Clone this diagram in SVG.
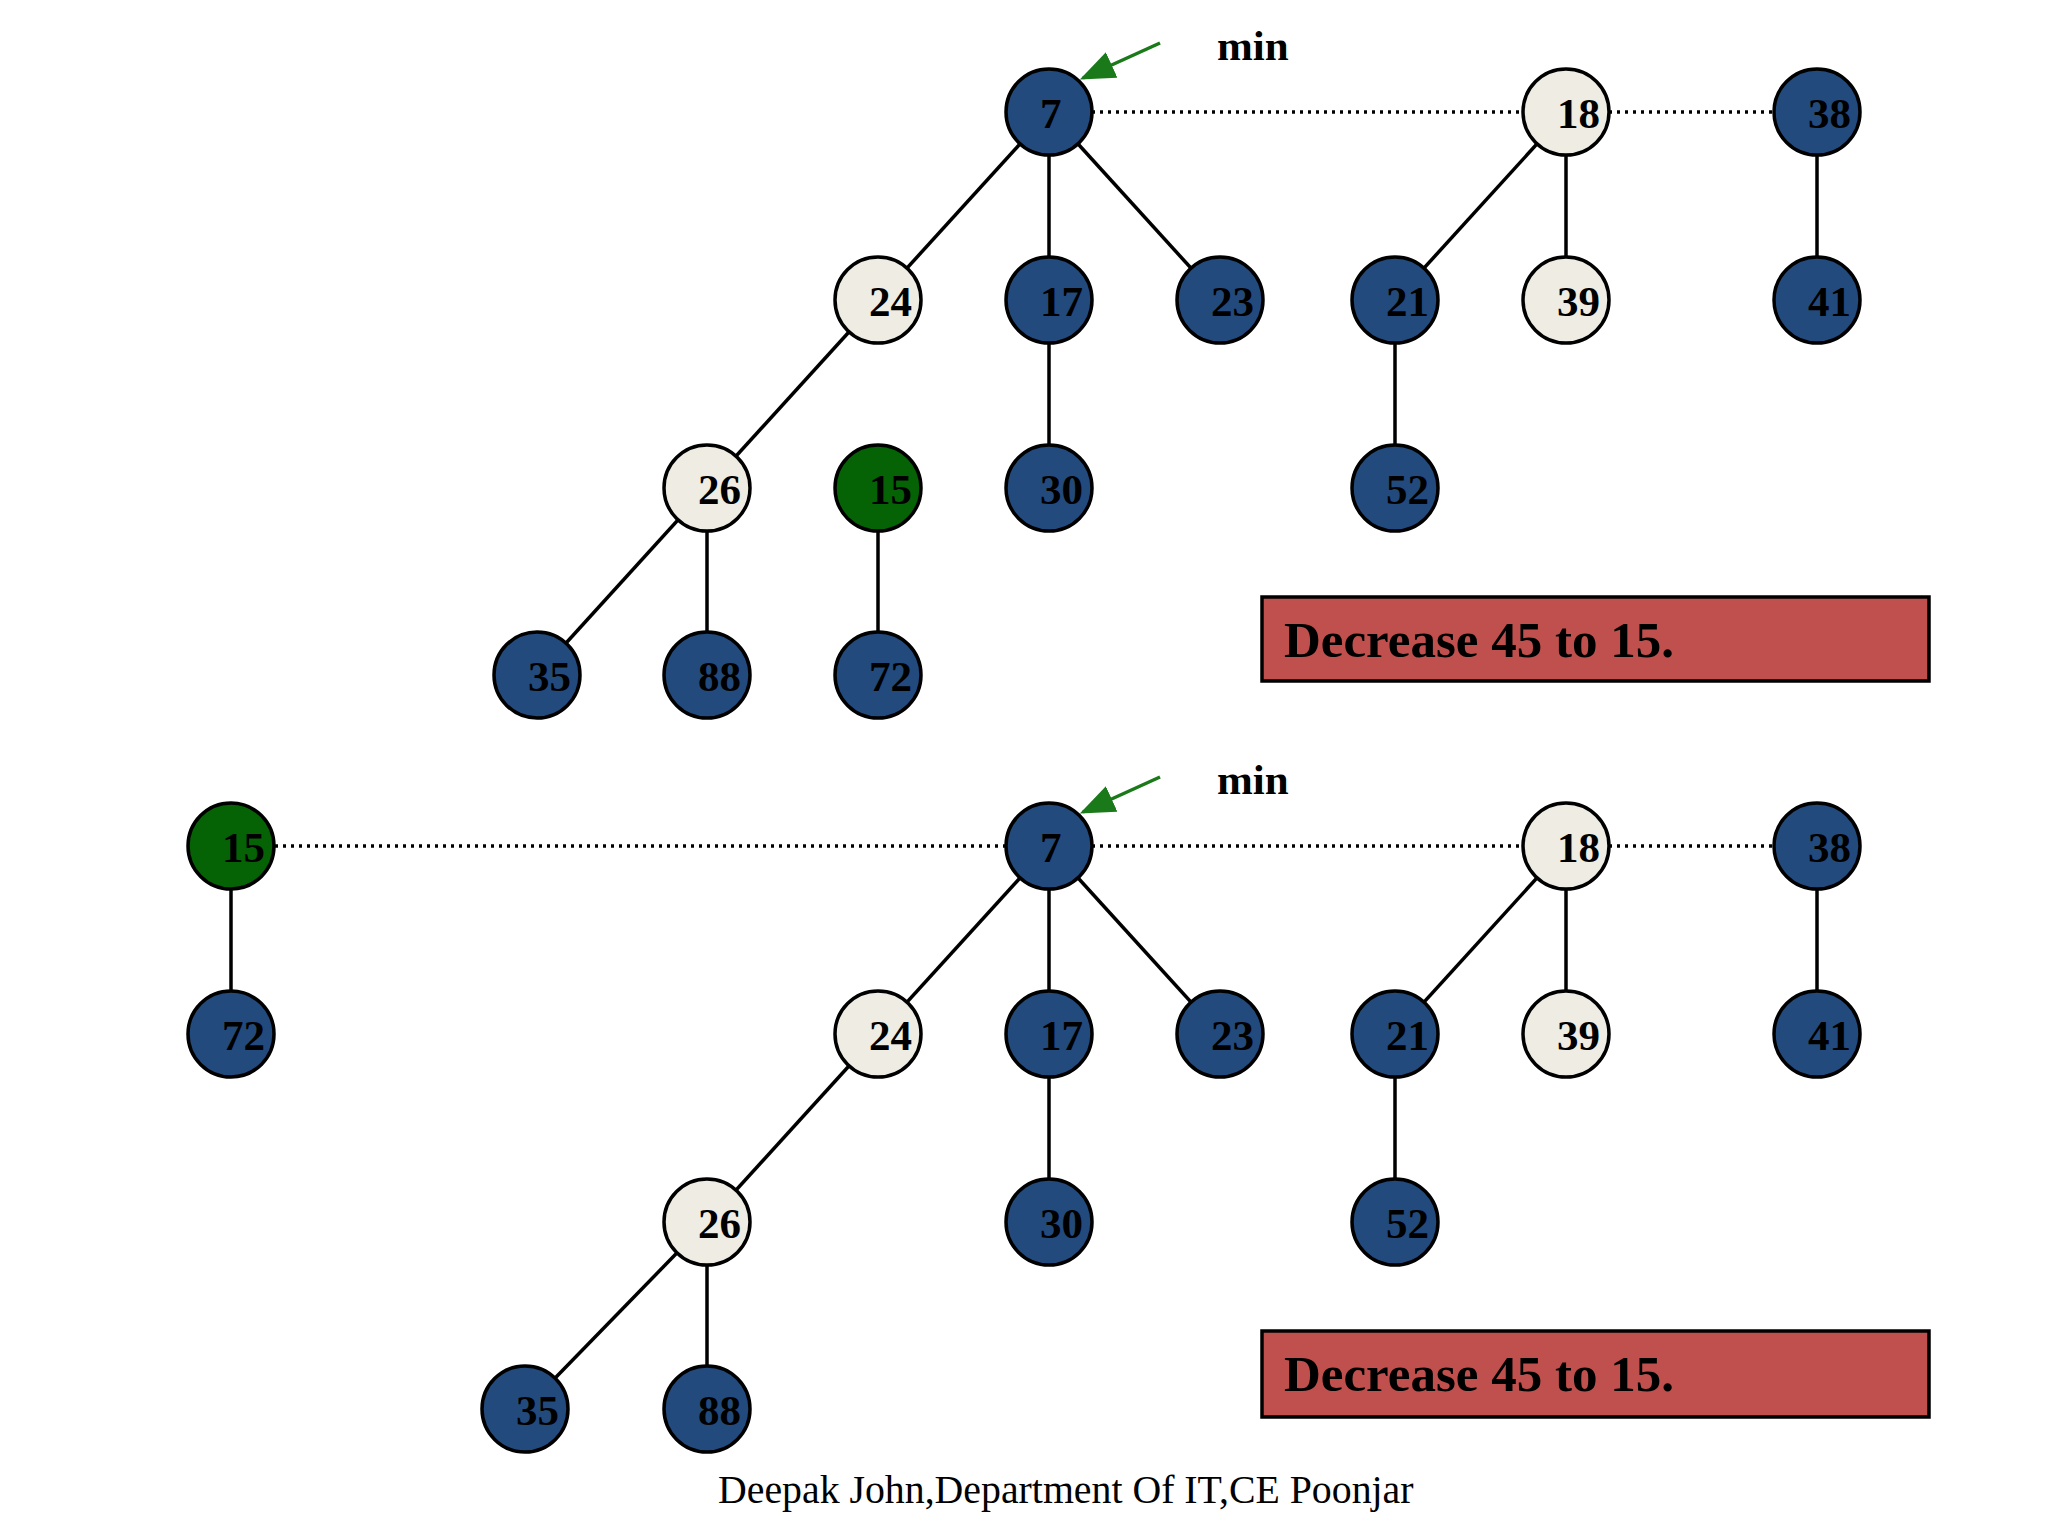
<svg xmlns="http://www.w3.org/2000/svg" width="2048" height="1536" viewBox="0 0 2048 1536">
<defs>
<style>
.nb{fill:#234a7d;stroke:#000;stroke-width:3.5}
.nl{fill:#eeece3;stroke:#000;stroke-width:3.5}
.ng{fill:#056205;stroke:#000;stroke-width:3.5}
.t{font-family:"Liberation Serif","Times New Roman",serif;font-weight:bold;font-size:43px;fill:#000}
.e{stroke:#000;stroke-width:3.5;fill:none}
.d{stroke:#000;stroke-width:3.4;stroke-dasharray:3 5;fill:none}
.box{fill:#c0504d;stroke:#000;stroke-width:3.5}
.bt{font-family:"Liberation Serif","Times New Roman",serif;font-weight:bold;font-size:51px;fill:#000}
.min{font-family:"Liberation Serif","Times New Roman",serif;font-weight:bold;font-size:43px;fill:#000}
.ft{font-family:"Liberation Serif","Times New Roman",serif;font-size:39.8px;fill:#000}
.arr{stroke:#1a7a1a;stroke-width:3.5;fill:none}
</style>
<marker id="ah" markerWidth="10" markerHeight="8" refX="9" refY="4" orient="auto" markerUnits="strokeWidth">
<path d="M0,0 L10,4 L0,8 z" fill="#1a7a1a"/>
</marker>
</defs>
<rect width="2048" height="1536" fill="#ffffff"/>

<g id="connectors">
<!-- top -->
<line class="d" x1="1092" y1="112" x2="1523" y2="112"/>
<line class="d" x1="1609" y1="112" x2="1774" y2="112"/>
<line class="e" x1="1049" y1="112" x2="878" y2="300"/>
<line class="e" x1="1049" y1="112" x2="1049" y2="300"/>
<line class="e" x1="1049" y1="112" x2="1220" y2="300"/>
<line class="e" x1="878" y1="300" x2="707" y2="488"/>
<line class="e" x1="707" y1="488" x2="537" y2="675"/>
<line class="e" x1="707" y1="488" x2="707" y2="675"/>
<line class="e" x1="1049" y1="300" x2="1049" y2="488"/>
<line class="e" x1="878" y1="488" x2="878" y2="675"/>
<line class="e" x1="1566" y1="112" x2="1395" y2="300"/>
<line class="e" x1="1566" y1="112" x2="1566" y2="300"/>
<line class="e" x1="1395" y1="300" x2="1395" y2="488"/>
<line class="e" x1="1817" y1="112" x2="1817" y2="300"/>
<line class="arr" x1="1160" y1="43" x2="1083" y2="78" marker-end="url(#ah)"/>
<!-- bottom -->
<line class="d" x1="275" y1="846" x2="1006" y2="846"/>
<line class="d" x1="1092" y1="846" x2="1523" y2="846"/>
<line class="d" x1="1609" y1="846" x2="1774" y2="846"/>
<line class="e" x1="231" y1="846" x2="231" y2="1034"/>
<line class="e" x1="1049" y1="846" x2="878" y2="1034"/>
<line class="e" x1="1049" y1="846" x2="1049" y2="1034"/>
<line class="e" x1="1049" y1="846" x2="1220" y2="1034"/>
<line class="e" x1="878" y1="1034" x2="707" y2="1222"/>
<line class="e" x1="707" y1="1222" x2="525" y2="1409"/>
<line class="e" x1="707" y1="1222" x2="707" y2="1409"/>
<line class="e" x1="1049" y1="1034" x2="1049" y2="1222"/>
<line class="e" x1="1566" y1="846" x2="1395" y2="1034"/>
<line class="e" x1="1566" y1="846" x2="1566" y2="1034"/>
<line class="e" x1="1395" y1="1034" x2="1395" y2="1222"/>
<line class="e" x1="1817" y1="846" x2="1817" y2="1034"/>
<line class="arr" x1="1160" y1="777" x2="1083" y2="812" marker-end="url(#ah)"/>
</g>

<text class="min" x="1217" y="60">min</text>
<text class="min" x="1217" y="794">min</text>

<!-- top nodes -->
<g id="t7"><circle class="nb" cx="1049" cy="112" r="43"/><text class="t" x="1040" y="128">7</text></g>
<g id="t18"><circle class="nl" cx="1566" cy="112" r="43"/><text class="t" x="1557" y="128">18</text></g>
<g id="t38"><circle class="nb" cx="1817" cy="112" r="43"/><text class="t" x="1808" y="128">38</text></g>
<g id="t24"><circle class="nl" cx="878" cy="300" r="43"/><text class="t" x="869" y="316">24</text></g>
<g id="t17"><circle class="nb" cx="1049" cy="300" r="43"/><text class="t" x="1040" y="316">17</text></g>
<g id="t23"><circle class="nb" cx="1220" cy="300" r="43"/><text class="t" x="1211" y="316">23</text></g>
<g id="t21"><circle class="nb" cx="1395" cy="300" r="43"/><text class="t" x="1386" y="316">21</text></g>
<g id="t39"><circle class="nl" cx="1566" cy="300" r="43"/><text class="t" x="1557" y="316">39</text></g>
<g id="t41"><circle class="nb" cx="1817" cy="300" r="43"/><text class="t" x="1808" y="316">41</text></g>
<g id="t26"><circle class="nl" cx="707" cy="488" r="43"/><text class="t" x="698" y="504">26</text></g>
<g id="t15"><circle class="ng" cx="878" cy="488" r="43"/><text class="t" x="869" y="504">15</text></g>
<g id="t30"><circle class="nb" cx="1049" cy="488" r="43"/><text class="t" x="1040" y="504">30</text></g>
<g id="t52"><circle class="nb" cx="1395" cy="488" r="43"/><text class="t" x="1386" y="504">52</text></g>
<g id="t35"><circle class="nb" cx="537" cy="675" r="43"/><text class="t" x="528" y="691">35</text></g>
<g id="t88"><circle class="nb" cx="707" cy="675" r="43"/><text class="t" x="698" y="691">88</text></g>
<g id="t72"><circle class="nb" cx="878" cy="675" r="43"/><text class="t" x="869" y="691">72</text></g>

<g id="tbox"><rect class="box" x="1262" y="597" width="667" height="84"/><text class="bt" x="1284" y="657">Decrease 45 to 15.</text></g>

<!-- bottom nodes -->
<g id="b15"><circle class="ng" cx="231" cy="846" r="43"/><text class="t" x="222" y="862">15</text></g>
<g id="b72"><circle class="nb" cx="231" cy="1034" r="43"/><text class="t" x="222" y="1050">72</text></g>
<g id="b7"><circle class="nb" cx="1049" cy="846" r="43"/><text class="t" x="1040" y="862">7</text></g>
<g id="b18"><circle class="nl" cx="1566" cy="846" r="43"/><text class="t" x="1557" y="862">18</text></g>
<g id="b38"><circle class="nb" cx="1817" cy="846" r="43"/><text class="t" x="1808" y="862">38</text></g>
<g id="b24"><circle class="nl" cx="878" cy="1034" r="43"/><text class="t" x="869" y="1050">24</text></g>
<g id="b17"><circle class="nb" cx="1049" cy="1034" r="43"/><text class="t" x="1040" y="1050">17</text></g>
<g id="b23"><circle class="nb" cx="1220" cy="1034" r="43"/><text class="t" x="1211" y="1050">23</text></g>
<g id="b21"><circle class="nb" cx="1395" cy="1034" r="43"/><text class="t" x="1386" y="1050">21</text></g>
<g id="b39"><circle class="nl" cx="1566" cy="1034" r="43"/><text class="t" x="1557" y="1050">39</text></g>
<g id="b41"><circle class="nb" cx="1817" cy="1034" r="43"/><text class="t" x="1808" y="1050">41</text></g>
<g id="b26"><circle class="nl" cx="707" cy="1222" r="43"/><text class="t" x="698" y="1238">26</text></g>
<g id="b30"><circle class="nb" cx="1049" cy="1222" r="43"/><text class="t" x="1040" y="1238">30</text></g>
<g id="b52"><circle class="nb" cx="1395" cy="1222" r="43"/><text class="t" x="1386" y="1238">52</text></g>
<g id="b35"><circle class="nb" cx="525" cy="1409" r="43"/><text class="t" x="516" y="1425">35</text></g>
<g id="b88"><circle class="nb" cx="707" cy="1409" r="43"/><text class="t" x="698" y="1425">88</text></g>

<g id="bbox"><rect class="box" x="1262" y="1331" width="667" height="86"/><text class="bt" x="1284" y="1391">Decrease 45 to 15.</text></g>

<text class="ft" x="718" y="1503">Deepak John,Department Of IT,CE Poonjar</text>
</svg>
